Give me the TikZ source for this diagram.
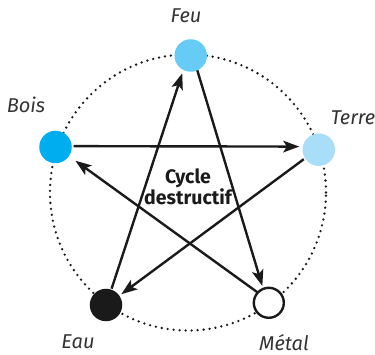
\documentclass[tikz,border=0pt]{standalone}
\usepackage{fontspec}
\setmainfont{Fira Sans}
\usetikzlibrary{arrows.meta}
\definecolor{feuc}{HTML}{66CCF5}
\definecolor{boisc}{HTML}{00AEEF}
\definecolor{terrec}{HTML}{A8DEF7}
\definecolor{eauc}{HTML}{1A1A1A}
\definecolor{txt}{HTML}{333333}
\tikzset{
  elem/.style={circle,minimum size=32.5pt,inner sep=0pt,outer sep=0pt},
  lab/.style={inner sep=0pt,font=\fontsize{20}{24}\selectfont\itshape,text=txt},
  arr/.style={line width=2.4pt,draw=eauc,-{Stealth[length=16pt,width=11.5pt,inset=3.5pt]}},
  dotc/.style={line width=2.6pt,line cap=round,dash pattern=on 0pt off 6pt,draw=eauc}
}
\begin{document}
\begin{tikzpicture}[x=1pt,y=-1pt]
\useasboundingbox (0,0) rectangle (375,355);
\draw[dotc] (188,192.5) circle[radius=138pt];
\node[elem,fill=feuc] (feu) at (190.7,55.5) {};
\node[elem,fill=boisc] (bois) at (55.5,147) {};
\node[elem,fill=terrec] (terre) at (318.8,149.7) {};
\node[elem,fill=eauc] (eau) at (106,305) {};
\node[elem,fill=white,draw=eauc,line width=2.4pt,minimum size=30pt] (metal) at (268.8,302.8) {};
\node[lab] (lfeu) at (186,16) {Feu};
\node[lab] (lbois) at (26,105) {Bois};
\node[lab] (lterre) at (353,118) {Terre};
\node[lab] (leau) at (78,342) {Eau};
\node[lab] (lmetal) at (284,343) {Métal};
\node[inner sep=0pt,align=center,font=\fontsize{19.5}{21}\selectfont\bfseries,text=eauc] (title) at (188,187) {Cycle\\destructif};
\draw[arr,shorten <=2pt,shorten >=3.5pt] (bois.3) -- (terre.169);
\draw[arr,shorten <=1.5pt,shorten >=2.5pt] (terre.212) -- (eau.35);
\draw[arr,shorten <=1pt,shorten >=3.5pt] (eau.71) -- (feu.243);
\draw[arr,shorten >=3pt] (feu.294) -- (metal.112);
\draw[arr,shorten >=8pt] (metal.137) -- (bois.326);
\end{tikzpicture}
\end{document}
